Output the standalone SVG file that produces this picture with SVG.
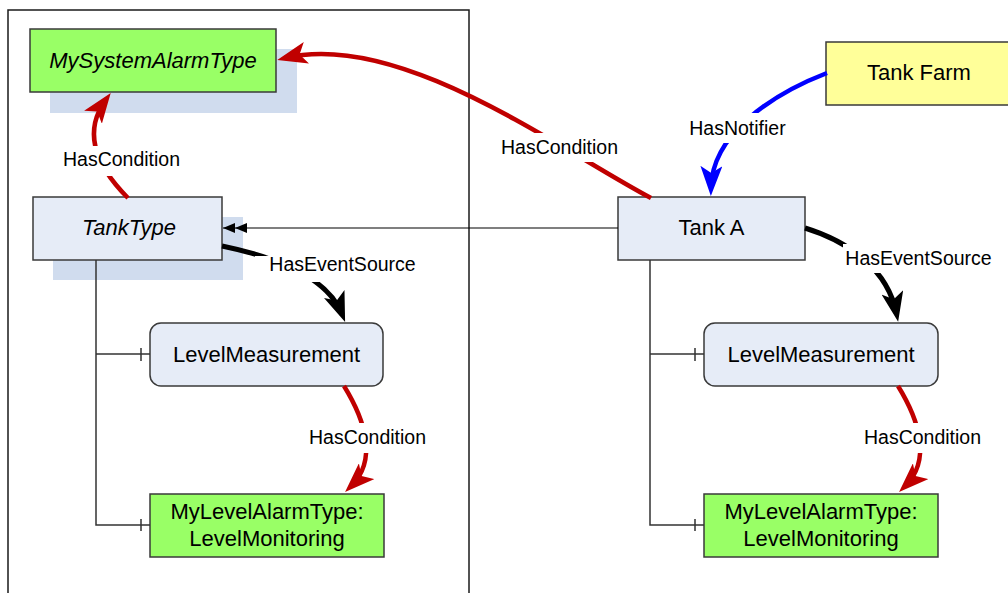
<svg xmlns="http://www.w3.org/2000/svg" width="1008" height="593" viewBox="0 0 1008 593">
<style>
.frame{fill:none;stroke:#1a1a1a;stroke-width:1.5}
.shadow{fill:#D0DCEE}
.box{stroke:#3a3a3a;stroke-width:1.5}
.lb{fill:#E6ECF7}
.gr{fill:#99FF66}
.ye{fill:#FFFF99}
.t{font-family:"Liberation Sans",Arial,sans-serif;font-size:22px;fill:#000;text-anchor:middle}
.it{font-style:italic}
.lbl{font-family:"Liberation Sans",Arial,sans-serif;font-size:19.5px;fill:#000;text-anchor:middle}
.lblbg{fill:#fff}
.tree{fill:none;stroke:#333;stroke-width:1.5}
.inh{fill:none;stroke:#000;stroke-width:1.2}
.red{fill:none;stroke:#C00000;stroke-width:4.5}
.blue{fill:none;stroke:#0000FF;stroke-width:4.5}
.blk{fill:none;stroke:#000;stroke-width:5}
</style>
<defs>
<marker id="ahRed" markerUnits="userSpaceOnUse" markerWidth="31" markerHeight="22" viewBox="0 0 31 22" refX="22" refY="11" orient="auto"><path d="M0,0 L30,11 L0,22 L7,11 Z" fill="#C00000"/></marker>
<marker id="ahBlue" markerUnits="userSpaceOnUse" markerWidth="31" markerHeight="22" viewBox="0 0 31 22" refX="22" refY="11" orient="auto"><path d="M0,0 L30,11 L0,22 L7,11 Z" fill="#0000FF"/></marker>
<marker id="ahBlk" markerUnits="userSpaceOnUse" markerWidth="31" markerHeight="22" viewBox="0 0 31 22" refX="22" refY="11" orient="auto"><path d="M0,0 L30,11 L0,22 L7,11 Z" fill="#000"/></marker>
<marker id="ahDouble" markerUnits="userSpaceOnUse" markerWidth="24" markerHeight="12" viewBox="0 0 24 12" refX="24" refY="6" orient="auto"><path d="M0,1 L12,6 L0,11 Z M12,1 L24,6 L12,11 Z" fill="#000"/></marker>
</defs>
<rect x="0" y="0" width="1008" height="593" fill="#fff"/>
<rect class="frame" x="8" y="10" width="461" height="620"/>

<g id="MySystemAlarmType">
<rect class="shadow" x="50" y="49" width="247" height="64"/>
<rect class="box gr" x="30" y="29" width="246" height="63"/>
<text class="t it" x="153" y="68">MySystemAlarmType</text>
</g>
<g id="TankType">
<rect class="shadow" x="53" y="217" width="190" height="63"/>
<rect class="box lb" x="33" y="197" width="189" height="63"/>
<text class="t it" x="129" y="235">TankType</text>
</g>
<g id="LevelMeasurement1">
<rect class="box lb" x="150" y="323" width="233" height="63" rx="11"/>
<text class="t" x="266.5" y="362">LevelMeasurement</text>
</g>
<g id="MyLevelAlarm1">
<rect class="box gr" x="150" y="494" width="234" height="63"/>
<text class="t" x="267" y="519">MyLevelAlarmType:</text>
<text class="t" x="267" y="546">LevelMonitoring</text>
</g>
<g id="TankFarm">
<rect class="box ye" x="826" y="42" width="190" height="63"/>
<text class="t" x="919" y="80">Tank Farm</text>
</g>
<g id="TankA">
<rect class="box lb" x="618" y="197" width="187" height="63"/>
<text class="t" x="711.5" y="235">Tank A</text>
</g>
<g id="LevelMeasurement2">
<rect class="box lb" x="704" y="323" width="234" height="63" rx="11"/>
<text class="t" x="821" y="362">LevelMeasurement</text>
</g>
<g id="MyLevelAlarm2">
<rect class="box gr" x="704" y="494" width="234" height="63"/>
<text class="t" x="821" y="519">MyLevelAlarmType:</text>
<text class="t" x="821" y="546">LevelMonitoring</text>
</g>

<g id="connectors">
<path class="inh" d="M618,228 L223,228" marker-end="url(#ahDouble)"/>
<path class="tree" d="M96,260 V525 H150 M96,354 H150 M141,348 V361 M141,519 V531"/>
<path class="tree" d="M650,260 V525 H704 M650,354 H704 M695,348 V361 M695,519 V531"/>
<path class="red" d="M128,198 C100,170 80,135 106,99.5" marker-end="url(#ahRed)"/>
<path class="red" d="M651,198 C560,150 400,30 285,58" marker-end="url(#ahRed)"/>
<path class="blue" d="M827,73 C770,95 712,135 711,188" marker-end="url(#ahBlue)"/>
<path class="blk" d="M222,246 C280,258 328,278 342.2,314.5" marker-end="url(#ahBlk)"/>
<path class="blk" d="M805,228 C850,242 888,270 896.6,314" marker-end="url(#ahBlk)"/>
<path class="red" d="M344,386 C365,420 378,460 350.8,486.5" marker-end="url(#ahRed)"/>
<path class="red" d="M898,386 C919,420 932,460 904.8,486.5" marker-end="url(#ahRed)"/>

<rect class="lblbg" x="60" y="146" width="124" height="30"/>
<text class="lbl" x="121.5" y="166">HasCondition</text>
<rect class="lblbg" x="499" y="133" width="121" height="29"/>
<text class="lbl" x="559.5" y="154">HasCondition</text>
<rect class="lblbg" x="687" y="113" width="102" height="30"/>
<text class="lbl" x="737.5" y="135">HasNotifier</text>
<rect class="lblbg" x="255" y="256" width="165" height="26"/>
<text class="lbl" x="342.5" y="271">HasEventSource</text>
<rect class="lblbg" x="843" y="244" width="152" height="29"/>
<text class="lbl" x="918.5" y="265">HasEventSource</text>
<rect class="lblbg" x="306" y="423" width="124" height="30"/>
<text class="lbl" x="367.5" y="444">HasCondition</text>
<rect class="lblbg" x="860" y="423" width="125" height="30"/>
<text class="lbl" x="922.5" y="444">HasCondition</text>
</g>
</svg>
